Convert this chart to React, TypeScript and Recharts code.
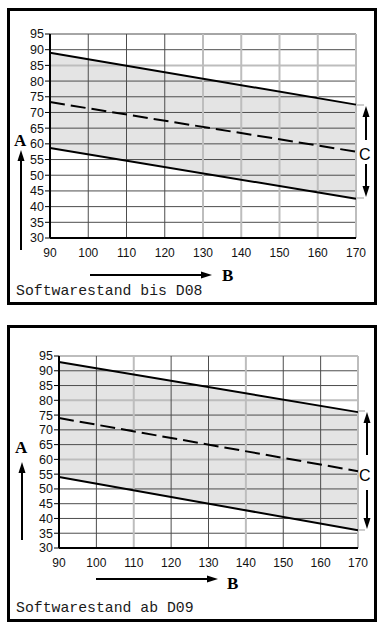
import {
  Area,
  ComposedChart,
  Line,
  ReferenceLine,
  XAxis,
  YAxis,
} from "recharts";

// x positions of both curves (B)
const bValues = [90, 170];
const xTicks = [90, 100, 110, 120, 130, 140, 150, 160, 170];
const yTicks = [30, 35, 40, 45, 50, 55, 60, 65, 70, 75, 80, 85, 90, 95];

// Softwarestand bis D08
const upperD08 = [89, 72.5];
const middleD08 = [73.3, 57.5];
const lowerD08 = [58.7, 42.5];
const lightXD08 = [130, 140, 150, 160, 170];
const lightYD08 = [85];

// Softwarestand ab D09
const upperD09 = [93, 76];
const middleD09 = [74, 56];
const lowerD09 = [54, 36];
const lightXD09 = [110, 140, 170];
const lightYD09 = [95, 80, 60];

const DARK = "#4d4d4d";
const LIGHT = "#bdbdbd";
const xTickFont = { fill: "#111", fontSize: 12, fontFamily: "Liberation Sans, Arial, sans-serif" };
const yTickFont = { fill: "#111", fontSize: 12.5, fontFamily: "Liberation Sans, Arial, sans-serif" };

interface PanelProps {
  top: number;
  upper: number[];
  middle: number[];
  lower: number[];
  lightX: number[];
  lightY: number[];
  margin: { top: number; right: number; bottom: number; left: number };
}

function Panel({ top, upper, middle, lower, lightX, lightY, margin }: PanelProps) {
  const rows = bValues.map((b, i) => ({
    b,
    upper: upper[i],
    middle: middle[i],
    lower: lower[i],
    band: [lower[i], upper[i]],
  }));

  return (
    <div style={{ position: "absolute", left: 0, top }}>
      <ComposedChart width={383} height={300} data={rows} margin={margin}>
        <XAxis
          dataKey="b"
          type="number"
          domain={[90, 170]}
          ticks={xTicks}
          axisLine={{ stroke: "#000", strokeWidth: 2 }}
          tickLine={false}
          tickSize={6}
          tickMargin={4}
          tick={xTickFont}
          height={30}
        />
        <YAxis
          type="number"
          domain={[30, 95]}
          ticks={yTicks}
          interval={0}
          axisLine={{ stroke: "#000", strokeWidth: 2 }}
          tickLine={{ stroke: "#000" }}
          tickSize={5}
          tickMargin={1}
          tick={yTickFont}
          width={30}
        />
        <Area
          type="linear"
          dataKey="band"
          fill="#e4e4e4"
          fillOpacity={1}
          stroke="none"
          isAnimationActive={false}
        />
        {yTicks.slice(1).map((v) => (
          <ReferenceLine
            key={`y${v}`}
            y={v}
            stroke={lightY.includes(v) ? LIGHT : DARK}
            strokeWidth={lightY.includes(v) ? 2 : 1}
          />
        ))}
        {xTicks.slice(1).map((v) => (
          <ReferenceLine
            key={`x${v}`}
            x={v}
            stroke={lightX.includes(v) ? LIGHT : DARK}
            strokeWidth={lightX.includes(v) ? 2 : 1}
          />
        ))}
        <Line type="linear" dataKey="upper" stroke="#000" strokeWidth={2} dot={false} isAnimationActive={false} />
        <Line
          type="linear"
          dataKey="middle"
          stroke="#000"
          strokeWidth={2}
          strokeDasharray="15 6"
          dot={false}
          isAnimationActive={false}
        />
        <Line type="linear" dataKey="lower" stroke="#000" strokeWidth={2} dot={false} isAnimationActive={false} />
      </ComposedChart>
    </div>
  );
}

function Arrow({ x1, y1, x2, y2 }: { x1: number; y1: number; x2: number; y2: number }) {
  // arrowhead at (x2, y2)
  const dx = x2 - x1;
  const dy = y2 - y1;
  const len = Math.hypot(dx, dy);
  const ux = dx / len;
  const uy = dy / len;
  const hl = 11;
  const hw = 3.5;
  const bx = x2 - ux * hl;
  const by = y2 - uy * hl;
  return (
    <g>
      <line x1={x1} y1={y1} x2={bx} y2={by} stroke="#000" strokeWidth={2} />
      <polygon
        points={`${x2},${y2} ${bx - uy * hw},${by + ux * hw} ${bx + uy * hw},${by - ux * hw}`}
        fill="#000"
      />
    </g>
  );
}

const serif = "Liberation Serif, Times New Roman, serif";
const sans = "Liberation Sans, Arial, sans-serif";
const mono = "Liberation Mono, Courier New, monospace";

export default function App() {
  return (
    <div style={{ position: "absolute", left: 0, top: 0, width: 383, height: 630, background: "#fff" }}>
      <div
        style={{
          position: "absolute",
          left: 7,
          top: 8,
          width: 370,
          height: 297,
          boxSizing: "border-box",
          border: "3px solid #000",
        }}
      />
      <div
        style={{
          position: "absolute",
          left: 7,
          top: 325,
          width: 370,
          height: 297,
          boxSizing: "border-box",
          border: "3px solid #000",
        }}
      />

      <Panel
        top={0}
        upper={upperD08}
        middle={middleD08}
        lower={lowerD08}
        lightX={lightXD08}
        lightY={lightYD08}
        margin={{ top: 34, right: 27, bottom: 32, left: 20 }}
      />
      <Panel
        top={320}
        upper={upperD09}
        middle={middleD09}
        lower={lowerD09}
        lightX={lightXD09}
        lightY={lightYD09}
        margin={{ top: 36, right: 25, bottom: 42, left: 29 }}
      />

      <svg width={383} height={630} style={{ position: "absolute", left: 0, top: 0, pointerEvents: "none" }}>
        {/* panel 1 annotations */}
        <Arrow x1={21} y1={250} x2={21} y2={150} />
        <Arrow x1={90} y1={275} x2={212} y2={275} />
        <line x1={356} y1={105} x2={364} y2={105} stroke={LIGHT} strokeWidth={1.5} />
        <line x1={356} y1={198} x2={364} y2={198} stroke={LIGHT} strokeWidth={1.5} />
        <Arrow x1={366} y1={140} x2={366} y2={106} />
        <Arrow x1={366} y1={164} x2={366} y2={197} />
        <text x={14} y={146} fontFamily={serif} fontSize={17} fontWeight="bold" fill="#000">A</text>
        <text x={222} y={281} fontFamily={serif} fontSize={17} fontWeight="bold" fill="#000">B</text>
        <text x={359} y={160} fontFamily={sans} fontSize={16} fill="#000">C</text>

        {/* panel 2 annotations */}
        <Arrow x1={22} y1={540} x2={22} y2={462} />
        <Arrow x1={96} y1={579} x2={218} y2={579} />
        <line x1={358} y1={411} x2={365} y2={411} stroke={LIGHT} strokeWidth={1.5} />
        <line x1={358} y1={530} x2={365} y2={530} stroke={LIGHT} strokeWidth={1.5} />
        <Arrow x1={367} y1={455} x2={367} y2={412} />
        <Arrow x1={367} y1={490} x2={367} y2={529} />
        <text x={15} y={453} fontFamily={serif} fontSize={17} fontWeight="bold" fill="#000">A</text>
        <text x={227} y={589} fontFamily={serif} fontSize={17} fontWeight="bold" fill="#000">B</text>
        <text x={359} y={481} fontFamily={sans} fontSize={16} fill="#000">C</text>

        <text x={16} y={295} fontFamily={mono} fontSize={14.8} fill="#1a1a1a">Softwarestand bis D08</text>
        <text x={16} y={612} fontFamily={mono} fontSize={14.8} fill="#1a1a1a">Softwarestand ab D09</text>
      </svg>
    </div>
  );
}
